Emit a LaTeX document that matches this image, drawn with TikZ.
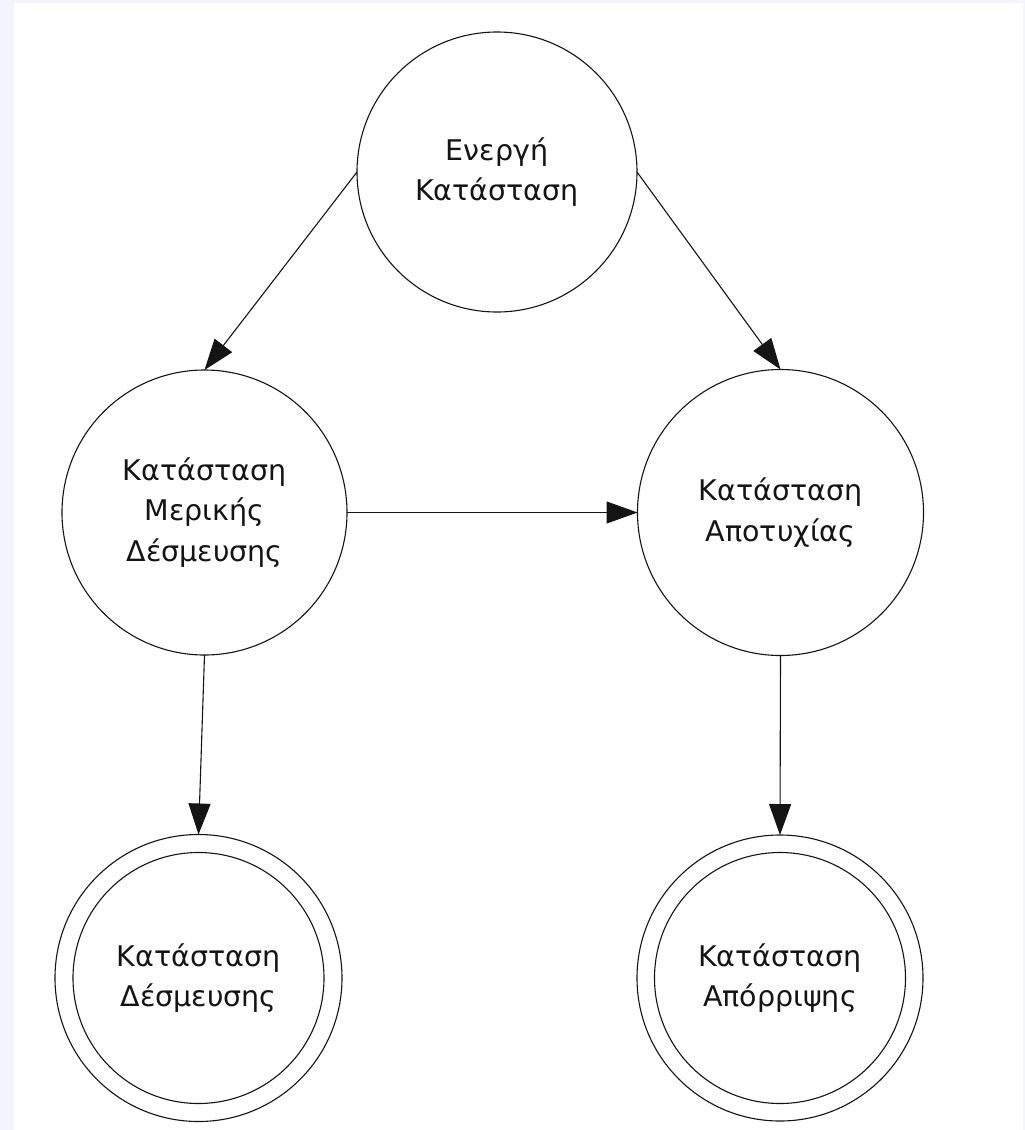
\documentclass[tikz,border=0pt]{standalone}
\usepackage{fontspec}
\setmainfont{DejaVu Sans}
\usetikzlibrary{arrows.meta}
\definecolor{lav}{RGB}{243,244,255}
\definecolor{ink}{RGB}{20,20,20}
\begin{document}
\begin{tikzpicture}[x=1pt,y=-1pt,
  state/.style={circle, draw=ink, line width=1.1pt, inner sep=0pt, outer sep=0pt,
    align=center, text=ink, font=\fontsize{28.5}{40.5}\selectfont},
  inner/.style={circle, draw=ink, line width=1.1pt, inner sep=0pt, minimum size=251pt},
  arr/.style={draw=ink, line width=1.1pt, -{Triangle[length=31pt,width=22pt]}}
]
\useasboundingbox (0,0) rectangle (1025,1130);
\fill[lav] (0,0) rectangle (1025,1130);
\fill[white] (14,3) rectangle (1023,1130);

\node[state, minimum size=280pt] (act) at (497,172) {Ενεργή\\Κατάσταση};
\node[state, minimum size=285pt] (pmd) at (204.5,512.5) {Κατάσταση\\Μερικής\\Δέσμευσης};
\node[state, minimum size=286pt] (fail) at (780.5,512.5) {Κατάσταση\\Αποτυχίας};
\node[state, minimum size=287pt] (com) at (198.5,978) {Κατάσταση\\Δέσμευσης};
\node[inner] (comi) at (com.center) {};
\node[state, minimum size=286pt] (rej) at (780,978) {Κατάσταση\\Απόρριψης};
\node[inner] (reji) at (rej.center) {};

\draw[arr] (act.west) -- (pmd.north);
\draw[arr] (act.east) -- (fail.north);
\draw[arr] (pmd.east) -- (fail.west);
\draw[arr] (pmd.south) -- (com.north);
\draw[arr] (fail.south) -- (rej.north);
\end{tikzpicture}
\end{document}
